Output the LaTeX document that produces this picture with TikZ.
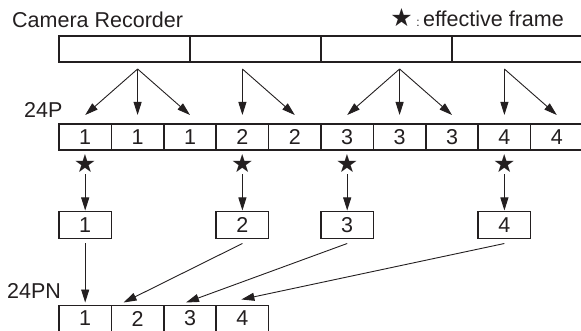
\documentclass[tikz,border=0pt]{standalone}
\usepackage{fontspec}
\setmainfont{Liberation Sans}
\newfontfamily\symfont{DejaVu Sans}
\usepackage{xcolor}
\definecolor{ink}{HTML}{231F20}
\usetikzlibrary{arrows.meta}

\begin{document}
\begin{tikzpicture}[x=1pt, y=-1pt, color=ink, font=\fontsize{21.5}{25}\selectfont,
  cell/.style={draw, line width=1.5pt, minimum width=52.4pt, minimum height=26pt, inner sep=0pt, outer sep=0pt},
  camcell/.style={cell, minimum width=131pt},
  effbox/.style={cell, minimum height=27pt},
  starmark/.style={inner sep=0pt, font=\symfont\fontsize{25}{25}\selectfont},
  label/.style={inner sep=0pt},
  arrow/.style={line width=0.9pt, -{Triangle[length=13pt, width=8pt]}}]
\useasboundingbox (0,0) rectangle (581,331);
% camera frames
\foreach \i in {1,...,4}
  \node[camcell] (cam\i) at ({59+131*(\i-0.5)},49) {};
% 24P frames
\foreach \d [count=\i] in {1,1,1,2,2,3,3,3,4,4}
  \node[cell] (p\i) at ({59+52.4*(\i-0.5)},137) {\d};
\foreach \s/\c in {1/2,2/4,3/7,4/9}
  \coordinate (src\s) at ([yshift=55pt]p\c.north);
\foreach \s/\t in {1/1,1/2,1/3,2/4,2/5,3/6,3/7,3/8,4/9,4/10}
  \draw[arrow] (src\s) -- ([yshift=9pt]p\t.north);
% effective frames
\foreach \i/\c in {1/1,2/4,3/6,4/9} {
  \node[starmark] (s\i) at ([yshift=-14pt]p\c.south) {★};
  \node[effbox] (e\i) at ([yshift=-75pt]p\c.south) {\i};
  \draw[arrow] ([yshift=-1pt]s\i.south) -- ([yshift=1pt]e\i.north);
}
% 24PN frames
\foreach \d in {1,...,4}
  \node[cell] (n\d) at ({59+52.4*(\d-0.5)},318.5) {\d};
\draw[arrow] ([yshift=-5pt]e1.south) -- ([yshift=3pt]n1.north);
\draw[arrow] ([yshift=-5pt]e2.south) -- ([xshift=-14pt, yshift=3pt]n2.north);
\draw[arrow] ([yshift=-5pt]e3.south) -- ([xshift=-4pt, yshift=3pt]n3.north);
\draw[arrow] ([yshift=-5pt]e4.south) -- ([xshift=-1pt, yshift=6pt]n4.north);
% labels
\node[label, anchor=base west] (camlabel) at (12,27.3) {Camera Recorder};
\node[label, anchor=base east] (legend) at (564,27) {{\symfont\fontsize{25}{25}\selectfont ★}\,{\fontsize{12}{12}\selectfont :}\,effective frame};
\node[label, anchor=base west] (lbl24p) at (24,118) {24P};
\node[label, anchor=base west] (lbl24pn) at (7,298) {24PN};
\end{tikzpicture}
\end{document}
